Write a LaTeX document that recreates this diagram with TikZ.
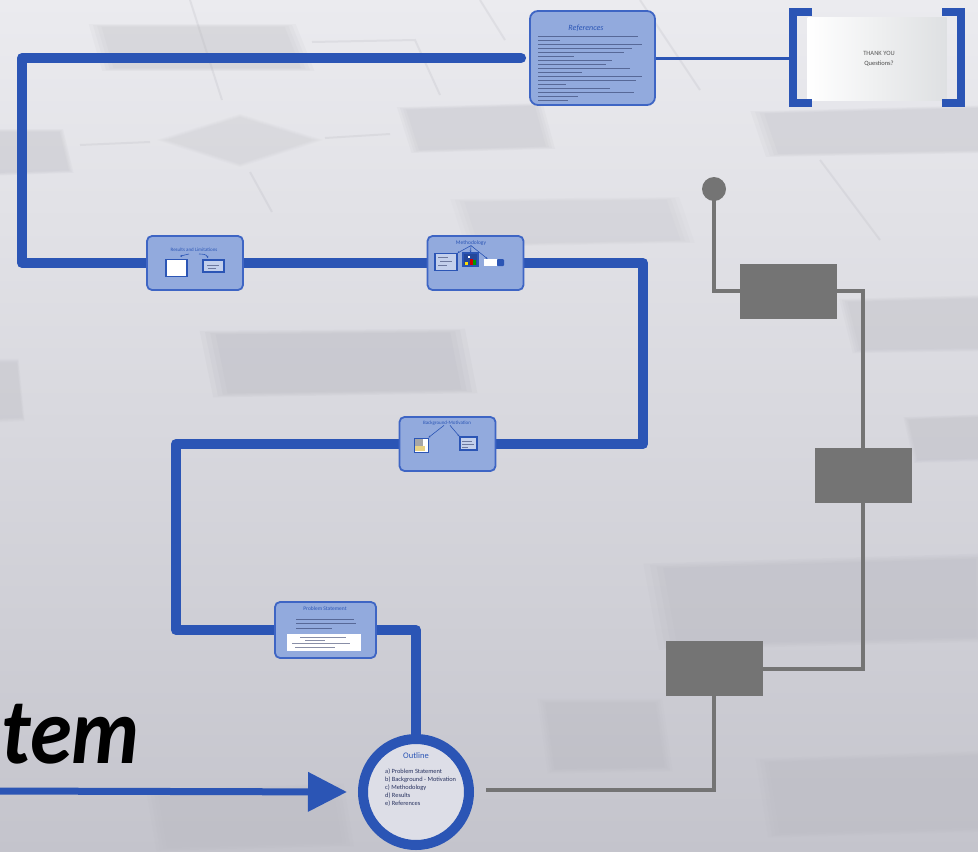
\documentclass[tikz,border=0pt]{standalone}
\usepackage{fontspec}
\setmainfont{Carlito}
\usetikzlibrary{arrows.meta,calc}
\definecolor{blueC}{RGB}{43,85,181}
\definecolor{boxfill}{RGB}{146,170,221}
\definecolor{boxline}{RGB}{62,101,196}
\definecolor{grayC}{RGB}{116,116,116}
\definecolor{ghostC}{RGB}{180,180,188}
\definecolor{inkC}{RGB}{40,50,95}
\pgfdeclarelayer{backdrop}
\pgfdeclarelayer{wires}
\pgfsetlayers{backdrop,wires,main}
% soft-edged shape: nested translucent fills around a centre point
\newcommand{\haze}[3]{%
  \foreach \s in {1.04,1.0,0.96,0.92}{\fill[ghostC,opacity=#1,scale around={\s:(#2)}] #3;}}
\begin{document}
\begin{tikzpicture}[x=1pt,y=-1pt,
  trunk/.style={draw=blueC,line width=10,line join=round,line cap=round},
  thinwire/.style={draw=blueC,line width=3},
  stagebox/.style={draw=boxline,line width=1.8,fill=boxfill,rounded corners=5,
    minimum width=96,minimum height=54,inner sep=0},
  graybox/.style={fill=grayC,minimum width=97,minimum height=55,inner sep=0},
  grayline/.style={draw=grayC,line width=4,line join=miter},
  boxtitle/.style={text=blueC,inner sep=0,font=\fontsize{5}{6}\selectfont},
  textline/.style={draw=inkC,line width=1.1,opacity=0.55},
  minibox/.style={draw=blueC,line width=1.2,fill=boxfill!55!white,inner sep=0},
  tinyarrow/.style={draw=blueC,line width=0.6,-{Stealth[length=2,width=2]}},
  ghostline/.style={draw=ghostC,line width=2,opacity=0.22},
]
\useasboundingbox (0,0) rectangle (978,852);

% ---------- backdrop ----------
\begin{pgfonlayer}{backdrop}
  \shade[top color={rgb,255:red,235;green,235;blue,239},
         bottom color={rgb,255:red,196;green,196;blue,204},
         middle color={rgb,255:red,216;green,216;blue,222}]
    (0,0) rectangle (978,852);
  % faint flowchart shapes in the distance
  \haze{0.09}{200,47}{(93,25) -- (292,25) -- (310,70) -- (106,70) -- cycle}
  \haze{0.06}{240,140}{(160,140) -- (240,115) -- (320,140) -- (240,166) -- cycle}
  \haze{0.09}{476,128}{(400,108) -- (540,104) -- (552,148) -- (414,152) -- cycle}
  \haze{0.09}{34,152}{(-10,130) -- (62,130) -- (72,172) -- (-10,175) -- cycle}
  \haze{0.06}{572,222}{(455,200) -- (675,198) -- (690,242) -- (470,246) -- cycle}
  \haze{0.12}{338,362}{(205,332) -- (460,330) -- (472,392) -- (218,396) -- cycle}
  \haze{0.09}{870,131}{(755,112) -- (990,106) -- (990,152) -- (770,156) -- cycle}
  \haze{0.09}{912,325}{(842,300) -- (990,296) -- (990,350) -- (855,352) -- cycle}
  \haze{0.09}{945,438}{(905,418) -- (990,415) -- (990,460) -- (915,462) -- cycle}
  \haze{0.08}{5,390}{(-20,360) -- (18,360) -- (24,420) -- (-20,422) -- cycle}
  \haze{0.1}{815,602}{(650,565) -- (990,555) -- (990,640) -- (665,648) -- cycle}
  \haze{0.07}{250,817}{(150,790) -- (340,785) -- (350,845) -- (160,850) -- cycle}
  \haze{0.08}{605,736}{(540,700) -- (660,700) -- (670,770) -- (550,772) -- cycle}
  \haze{0.07}{870,795}{(760,760) -- (990,752) -- (990,830) -- (772,836) -- cycle}
  \draw[ghostline] (190,0) -- (222,100);
  \draw[ghostline] (312,42) -- (415,40) -- (440,95);
  \draw[ghostline] (80,145) -- (150,142);
  \draw[ghostline] (325,138) -- (390,134);
  \draw[ghostline] (250,172) -- (272,212);
  \draw[ghostline] (480,0) -- (505,40);
  \draw[ghostline] (640,0) -- (700,90);
  \draw[ghostline] (820,160) -- (880,240);
\end{pgfonlayer}

% ---------- stage boxes ----------
\node[stagebox,minimum width=125,minimum height=94,rounded corners=8] (refs) at (592.5,58) {};
\node[stagebox] (res)  at (195,263)   {};
\node[stagebox] (meth) at (475.5,263) {};
\node[stagebox] (bgm)  at (447.5,444) {};
\node[stagebox,minimum width=101,minimum height=56] (prob) at (325.5,630) {};
\node[circle,draw=blueC,line width=10,fill={rgb,255:red,221;green,222;blue,231},
      minimum size=106,inner sep=0] (outline) at (416,792) {};

% ---------- closing slide ----------
\node[minimum width=139,minimum height=83,inner sep=0,
      left color=white,right color={rgb,255:red,222;green,224;blue,226}] (thanks) at (877,58.5) {};
\draw[blueC,line width=8] (812,12) -- (793,12) -- (793,103) -- (812,103);
\draw[blueC,line width=8] (942,12) -- (961,12) -- (961,103) -- (942,103);
\node[text=black!65,font=\fontsize{6.5}{7}\selectfont,inner sep=0] at (879,53) {THANK YOU};
\node[text=black!70,font=\fontsize{6.5}{7}\selectfont,inner sep=0] at (879,64) {Questions?};
\coordinate (bracketL) at (789,58);

% ---------- blue trunk ----------
\coordinate (k1) at (22,58);
\coordinate (k2) at (22,263);
\coordinate (k3) at (643,263);
\coordinate (k4) at (643,444);
\coordinate (k5) at (176,444);
\coordinate (k6) at (176,630);
\coordinate (k7) at (416,630);
\begin{pgfonlayer}{wires}
  \draw[trunk,shorten <=8] (refs.west) -- (k1) -- (k2) -- (res.west);
  \draw[trunk] (res.east) -- (meth.west);
  \draw[trunk] (meth.east) -- (k3) -- (k4) -- (bgm.east);
  \draw[trunk] (bgm.west) -- (k5) -- (k6) -- (prob.west);
  \draw[trunk] (prob.east) -- (k7) -- (outline.north);
  \draw[thinwire] (refs.east) -- (bracketL);
\end{pgfonlayer}

% ---------- references ----------
\node[text=blueC,font=\fontsize{8}{9}\selectfont\itshape,inner sep=0] at (586,28) {References};
\foreach \yy/\ll in {36/100,40/22,44/104,48/94,52/86,56/36,60/74,64/68,68/92,
                     72/44,76/104,80/98,84/28,88/72,92/96,96/40,100/30}
  \draw[textline,line width=0.9] (538,\yy) -- ++(\ll,0);

% ---------- results and limitations ----------
\node[boxtitle] (resT) at (194,250) {Results and Limitations};
\node[draw=blueC,line width=1.6,fill=white,minimum width=21,minimum height=17,inner sep=0] (resA) at (176.5,268) {};
\node[minibox,minimum width=21,minimum height=12] (resB) at (213.5,266) {};
\draw[textline,line width=0.8] (207,265) -- ++(12,0) (208,268) -- ++(8,0);
\draw[tinyarrow] (189,254) to[out=180,in=0] (180,256);
\draw[tinyarrow] (199,254) to[out=0,in=110] (208,258);

% ---------- methodology ----------
\node[boxtitle,font=\fontsize{5.5}{6}\selectfont] (methT) at (471,243) {Methodology};
\node[minibox,minimum width=22,minimum height=17] (mA) at (446,262) {};
\draw[textline,line width=0.6] (438,257) -- ++(10,0) (440,261) -- ++(12,0) (438,265) -- ++(9,0);
\node[draw=blueC,line width=1.2,fill=blueC!85!black,minimum width=15,minimum height=13,inner sep=0] (mB) at (470.5,259.5) {};
\fill[red!80!black] (470,259) rectangle (473,265);
\fill[green!60!black] (473,260) rectangle (476,265);
\fill[yellow!80!orange] (465,262) rectangle (468,265);
\fill[white] (468,256) rectangle (470,258);
\node[fill=white,minimum width=13,minimum height=7,inner sep=0] (mC) at (490.5,262.5) {};
\node[fill=blueC,rounded corners=1,minimum width=7,minimum height=7,inner sep=0] (mD) at (500.5,262.5) {};
\draw[tinyarrow] (methT.south) -- (mA.north east);
\draw[tinyarrow] (methT.south) -- (mB.north);
\draw[tinyarrow] (methT.south) -- ($(mC.north)+(-3,0)$);

% ---------- background-motivation ----------
\node[boxtitle] (bgmT) at (447,423) {Background-Motivation};
\node[draw=blueC,line width=1,fill=white,minimum width=14,minimum height=14,inner sep=0] (bA) at (421,445) {};
\fill[gray!70] (415,439) rectangle (423,446);
\fill[yellow!40!brown!60] (415,446) rectangle (425,451);
\node[minibox,minimum width=17,minimum height=13] (bB) at (468.5,443.5) {};
\draw[textline,line width=0.6] (462,441) -- ++(10,0) (462,444) -- ++(12,0) (462,447) -- ++(6,0);
\draw[tinyarrow] ($(bgmT.south)+(-3,0)$) -- (bA.north east);
\draw[tinyarrow] ($(bgmT.south)+(3,0)$) -- (bB.north west);

% ---------- problem statement ----------
\node[boxtitle,font=\fontsize{5.5}{6}\selectfont] (probT) at (325,609) {Problem Statement};
\draw[textline,line width=0.9] (296,619) -- ++(58,0) (296,623.5) -- ++(60,0) (296,628) -- ++(36,0);
\node[fill=white,minimum width=74,minimum height=17,inner sep=0] (probW) at (324,642.5) {};
\draw[textline,line width=0.7] (300,637) -- ++(46,0) (305,640) -- ++(20,0) (292,643.5) -- ++(58,0)
  (295,647) -- ++(40,0);

% ---------- outline ----------
\node[text=blueC,font=\fontsize{8.5}{9}\selectfont,inner sep=0] at (416,756) {Outline};
\node[anchor=north west,align=left,inner sep=0,text=inkC,
      font=\fontsize{6.4}{8}\selectfont] at (385,769)
  {a) Problem Statement\\ b) Background - Motivation\\ c) Methodology\\ d) Results\\ e) References};

% ---------- incoming arrow and title fragment ----------
\coordinate (feed) at (-10,791);
\draw[blueC,line width=7,-{Triangle[length=39,width=38]},shorten >=11] (feed) -- (outline.west);
\node[anchor=base east,inner sep=0,xscale=0.9,font=\fontsize{94}{94}\selectfont\bfseries\itshape] at (140,763) {tem};

% ---------- gray timeline ----------
\node[circle,fill=grayC,minimum size=24,inner sep=0] (dot) at (714,189) {};
\node[graybox] (g1) at (788.5,291) {};
\node[graybox] (g2) at (863,475.5) {};
\node[graybox] (g3) at (714,668.5) {};
\coordinate (j1) at (714,291);
\coordinate (j2) at (863,291);
\coordinate (j3) at (863,668.5);
\coordinate (j4) at (714,790);
\coordinate (gend) at (486,790);
\begin{pgfonlayer}{wires}
  \draw[grayline] (dot.center) -- (j1) -- (g1.west);
  \draw[grayline] (g1.east) -- (j2) -- (g2.north);
  \draw[grayline] (g2.south) -- (j3) -- (g3.east);
  \draw[grayline] (g3.south) -- (j4) -- (gend);
\end{pgfonlayer}
\end{tikzpicture}
\end{document}
